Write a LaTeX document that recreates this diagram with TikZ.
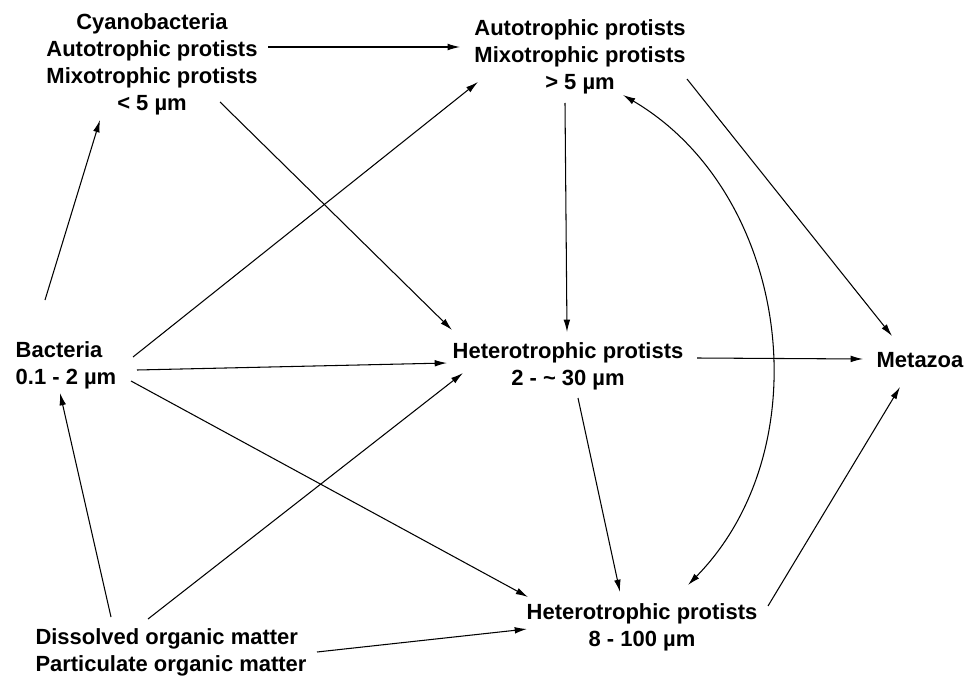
\documentclass[tikz,border=0pt]{standalone}
\usepackage{fontspec}
\setmainfont{Liberation Sans}
\usepackage{tikz}
\usetikzlibrary{arrows.meta}

\tikzset{
  taxon/.style={font=\fontsize{12.5}{15.4}\selectfont\bfseries, align=center, inner sep=0pt},
  flow/.style={-{Latex[length=7pt,width=3.8pt]}, line width=0.6pt},
}

\begin{document}
\begin{tikzpicture}[x=0.02cm,y=-0.02cm]
    \useasboundingbox (0,0) rectangle (971,679);

    % Gruppen
    \node[taxon] (cyano) at (152,64) {Cyanobacteria\\Autotrophic protists\\Mixotrophic protists\\< 5 µm};
    \node[taxon] (auto) at (580,57) {Autotrophic protists\\Mixotrophic protists\\> 5 µm};
    \node[taxon, align=left] (bact) at (66,365) {Bacteria\\0.1 - 2 µm};
    \node[taxon] (het) at (568,366) {Heterotrophic protists\\2 - \textasciitilde{} 30 µm};
    \node[taxon] (meta) at (920,360) {Metazoa};
    \node[taxon] (hetlarge) at (642,627) {Heterotrophic protists\\8 - 100 µm};
    \node[taxon, align=left] (dom) at (171,652) {Dissolved organic matter\\Particulate organic matter};

    % Pfeile links
    \draw[flow] ([shift={(116,-17)}]cyano.center) -- ([shift={(-120,-10)}]auto.center);
    \draw[flow] ([shift={(-21,-65)}]bact.center) -- ([shift={(-52,56)}]cyano.center);
    \draw[flow] ([shift={(68,38)}]cyano.center) -- ([shift={(-116,-36)}]het.center);
    \draw[flow] ([shift={(67,-8)}]bact.center) -- ([shift={(-102,25)}]auto.center);
    \draw[flow] ([shift={(71,5)}]bact.center) -- ([shift={(-121,-3)}]het.center);
    \draw[flow] ([shift={(65,16)}]bact.center) -- ([shift={(-114,-30)}]hetlarge.center);
    \draw[flow] ([shift={(-60,-35)}]dom.center) -- ([shift={(-6,28)}]bact.center);
    \draw[flow] ([shift={(-23,-33)}]dom.center) -- ([shift={(-105,7)}]het.center);
    \draw[flow] ([shift={(146,0)}]dom.center) -- ([shift={(-115,2)}]hetlarge.center);

    % Pfeile rechts
    \draw[flow] ([shift={(-15,46)}]auto.center) -- ([shift={(-1,-34)}]het.center);
    \draw[flow] ([shift={(107,22)}]auto.center) -- ([shift={(-28,-24)}]meta.center);
    \draw[flow] ([shift={(129,-8)}]het.center) -- ([shift={(-57,-1)}]meta.center);
    \draw[flow] ([shift={(10,32)}]het.center) -- ([shift={(-22,-35)}]hetlarge.center);
    \draw[flow] ([shift={(126,-21)}]hetlarge.center) -- ([shift={(-20,27)}]meta.center);
    \draw[flow, {Latex[length=7pt,width=3.8pt]}-{Latex[length=7pt,width=3.8pt]}]
        ([shift={(43,38)}]auto.center) to[bend left=52] ([shift={(46,-42)}]hetlarge.center);
\end{tikzpicture}
\end{document}
